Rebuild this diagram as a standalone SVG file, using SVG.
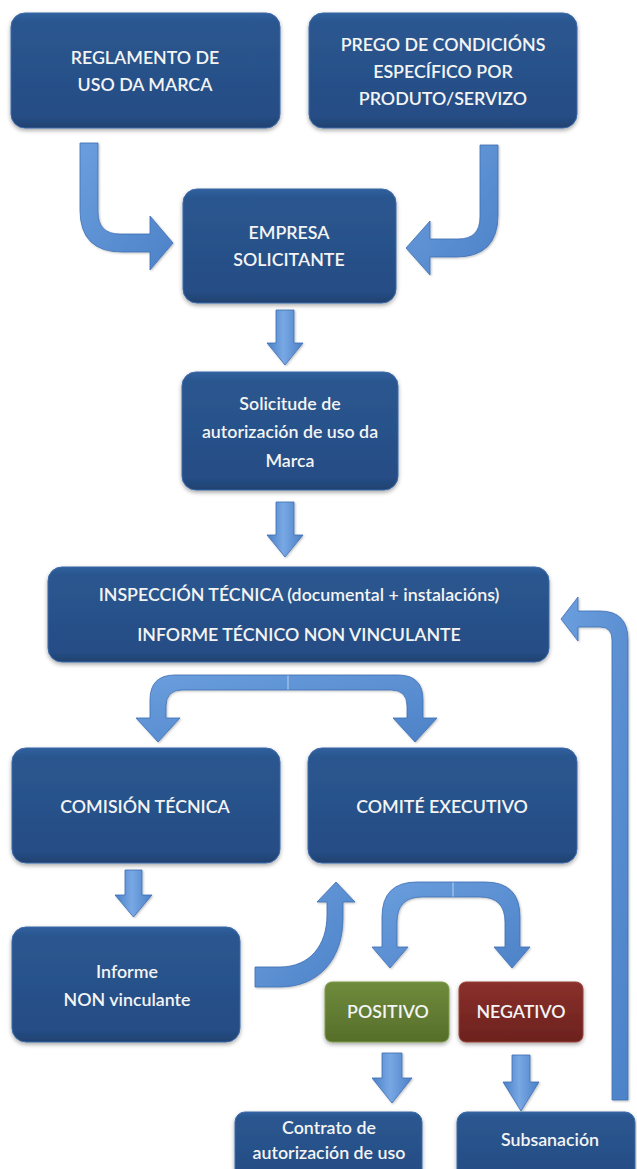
<svg xmlns="http://www.w3.org/2000/svg" width="637" height="1169" viewBox="0 0 637 1169">
<defs>
<linearGradient id="gBox" x1="0" y1="0" x2="0" y2="1">
<stop offset="0" stop-color="#30609e"/>
<stop offset="0.08" stop-color="#2a568f"/>
<stop offset="0.9" stop-color="#264d85"/>
<stop offset="1" stop-color="#1f416f"/>
</linearGradient>
<linearGradient id="gPos" x1="0" y1="0" x2="0" y2="1">
<stop offset="0" stop-color="#6f8c3c"/>
<stop offset="1" stop-color="#566e2a"/>
</linearGradient>
<linearGradient id="gNeg" x1="0" y1="0" x2="0" y2="1">
<stop offset="0" stop-color="#8a302b"/>
<stop offset="1" stop-color="#6c221e"/>
</linearGradient>
<linearGradient id="gArrV" x1="0" y1="0" x2="1" y2="0">
<stop offset="0" stop-color="#4a7fc6"/>
<stop offset="0.45" stop-color="#78a8e4"/>
<stop offset="1" stop-color="#4b80c6"/>
</linearGradient>
<linearGradient id="gArr" x1="0" y1="0" x2="1" y2="1">
<stop offset="0" stop-color="#6a9edd"/>
<stop offset="1" stop-color="#4d82c8"/>
</linearGradient>
<filter id="sh" x="-10%" y="-10%" width="120%" height="130%">
<feDropShadow dx="0" dy="2" stdDeviation="2" flood-color="#000" flood-opacity="0.35"/>
</filter>
<filter id="ash" x="-10%" y="-10%" width="130%" height="130%">
<feDropShadow dx="1" dy="1" stdDeviation="1.2" flood-color="#000" flood-opacity="0.25"/>
</filter>
</defs>
<style>
.box{fill:url(#gBox);stroke:#3b69a8;stroke-width:1;filter:url(#sh)}
.pos{fill:url(#gPos);stroke:#7d9a48;stroke-width:1;filter:url(#sh)}
.neg{fill:url(#gNeg);stroke:#99403a;stroke-width:1;filter:url(#sh)}
.t{font-family:Lato,"Open Sans","Liberation Sans",sans-serif;font-size:17.8px;font-weight:600;fill:#f4f4f4;text-anchor:middle}
.av{fill:url(#gArrV);stroke:#3d6fb3;stroke-width:0.8;filter:url(#ash)}
.ac{fill:url(#gArr);stroke:#3d6fb3;stroke-width:0.8;filter:url(#ash)}
.seam{stroke:#a9c8ef;stroke-width:1.2}
</style>
<rect width="637" height="1169" fill="#ffffff"/>

<g id="connectors">
<path class="ac" d="M80 143 H98 V212 Q98 234 120 234 H150 V216 L173 243 L150 270 V252 H122 Q80 252 80 210 Z"/>
<path class="ac" d="M498 145 V215 Q498 257 456 257 H430 V275 L406 248 L430 221 V239 H458 Q480 239 480 217 V145 Z"/>
<path class="av" d="M276 310 H294 V343 H303 L285 365 L267 343 H276 Z"/>
<path class="av" d="M276 502 H294 V535 H303 L285 557 L267 535 H276 Z"/>
<path class="ac" d="M150 718 V700 Q150 675 175 675 H398 Q423 675 423 700 V718 H437 L415 742 L393 718 H407 V706 Q407 690 391 690 H182 Q166 690 166 706 V718 H180 L158 742 L136 718 Z"/>
<line class="seam" x1="288" y1="675.5" x2="288" y2="689.5"/>
<path class="av" d="M125 870 H142 V895 H152 L133.5 917 L115 895 H125 Z"/>
<path class="ac" d="M255 967 H280 C310 967 327 945 327 915 V902 H317 L336 882 L355 902 H343 V918 C343 960 318 987 280 987 H255 Z"/>
<path class="ac" d="M382 947 V917 Q382 882 417 882 H485 Q520 882 520 917 V947 H530 L512 968 L494 947 H505 V922 Q505 897 480 897 H422 Q397 897 397 922 V947 H408 L390 968 L372 947 Z"/>
<line class="seam" x1="453" y1="882.5" x2="453" y2="896.5"/>
<path class="av" d="M382 1053 H402 V1078 H412 L392 1103 L372 1078 H382 Z"/>
<path class="av" d="M512 1055 H530 V1082 H539 L521 1111 L503 1082 H512 Z"/>
<path class="ac" d="M612 1100 V640 Q612 627 600 627 H578 V641 L561 619 L578 597 V611 H600 Q628 611 628 640 V1100 Z"/>
</g>

<g id="reglamento">
<rect class="box" x="11" y="13" width="269" height="115" rx="14"/>
<text class="t" x="145" y="64">REGLAMENTO DE</text>
<text class="t" x="145" y="91">USO DA MARCA</text>
</g>
<g id="prego">
<rect class="box" x="309" y="13" width="268" height="115" rx="14"/>
<text class="t" x="443" y="51">PREGO DE CONDICIÓNS</text>
<text class="t" x="443" y="78">ESPECÍFICO POR</text>
<text class="t" x="443" y="105">PRODUTO/SERVIZO</text>
</g>
<g id="empresa">
<rect class="box" x="183" y="189" width="213" height="114" rx="14"/>
<text class="t" x="289" y="239">EMPRESA</text>
<text class="t" x="289" y="266">SOLICITANTE</text>
</g>
<g id="solicitude">
<rect class="box" x="182" y="372" width="216" height="118" rx="14"/>
<text class="t" x="290" y="410">Solicitude de</text>
<text class="t" x="290" y="438">autorización de uso da</text>
<text class="t" x="290" y="467">Marca</text>
</g>
<g id="inspeccion">
<rect class="box" x="48" y="567" width="501" height="95" rx="14"/>
<text class="t" x="299" y="601">INSPECCIÓN TÉCNICA (documental + instalacións)</text>
<text class="t" x="299" y="641">INFORME TÉCNICO NON VINCULANTE</text>
</g>
<g id="comision">
<rect class="box" x="12" y="748" width="268" height="115" rx="14"/>
<text class="t" x="145" y="813">COMISIÓN TÉCNICA</text>
</g>
<g id="comite">
<rect class="box" x="308" y="748" width="269" height="115" rx="14"/>
<text class="t" x="442" y="813">COMITÉ EXECUTIVO</text>
</g>
<g id="informe">
<rect class="box" x="12" y="927" width="228" height="115" rx="14"/>
<text class="t" x="127" y="978">Informe</text>
<text class="t" x="127" y="1006">NON vinculante</text>
</g>
<g id="positivo">
<rect class="pos" x="325" y="982" width="124" height="60" rx="7"/>
<text class="t" x="388" y="1018">POSITIVO</text>
</g>
<g id="negativo">
<rect class="neg" x="459" y="982" width="124" height="60" rx="7"/>
<text class="t" x="521" y="1018">NEGATIVO</text>
</g>
<g id="contrato">
<rect class="box" x="235" y="1112" width="187" height="70" rx="10"/>
<text class="t" x="329" y="1134">Contrato de</text>
<text class="t" x="329" y="1159">autorización de uso</text>
</g>
<g id="subsanacion">
<rect class="box" x="457" y="1112" width="178" height="70" rx="10"/>
<text class="t" x="550" y="1146">Subsanación</text>
</g>
</svg>
